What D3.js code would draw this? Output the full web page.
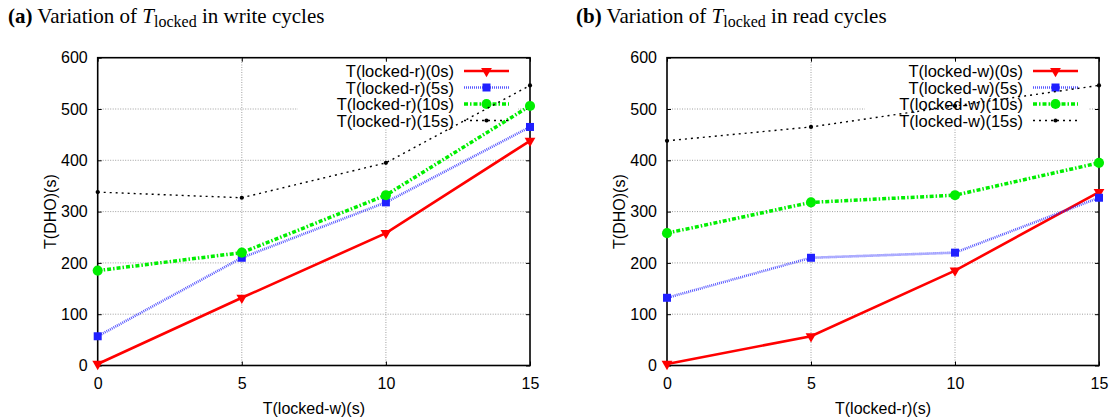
<!DOCTYPE html>
<html>
<head>
<meta charset="utf-8">
<script src="https://cdn.jsdelivr.net/npm/d3@7/dist/d3.min.js"></script>
<style>
  body { margin: 0; background: #fff; }
  svg text { font-family: "Liberation Sans", Arial, sans-serif; }
</style>
</head>
<body>
<script>
// x positions (seconds)
const xValues = [0, 5, 10, 15];
const xTicks = [0, 5, 10, 15];
const yTicks = [0, 100, 200, 300, 400, 500, 600];

// (a) write cycles: x = T(locked-w), series = T(locked-r)
const leftNames = ["T(locked-r)(0s)", "T(locked-r)(5s)", "T(locked-r)(10s)", "T(locked-r)(15s)"];
const leftR0 = [3, 132, 258, 438];
const leftR5 = [57, 210, 318, 465];
const leftR10 = [185, 220, 332, 506];
const leftR15 = [338, 327, 395, 546];

// (b) read cycles: x = T(locked-r), series = T(locked-w)
const rightNames = ["T(locked-w)(0s)", "T(locked-w)(5s)", "T(locked-w)(10s)", "T(locked-w)(15s)"];
const rightW0 = [3, 57, 185, 338];
const rightW5 = [132, 210, 220, 327];
const rightW10 = [258, 318, 332, 395];
const rightW15 = [438, 465, 506, 546];

const styles = [
  { color: "#ff0000", width: 2.6, dash: null, marker: "triangle", size: 50, opacity: 1 },
  { color: "#2020ff", width: 2.6, dash: "1,1", marker: "square", size: 64, opacity: 0.75 },
  { color: "#00ee00", width: 3.5, dash: "4,2,1.5,2", marker: "circle", size: 80, opacity: 1 },
  { color: "#000000", width: 1.4, dash: "2,4", marker: "circle", size: 14, opacity: 1 }
];

const svg = d3.select("body").append("svg")
  .attr("width", 1111).attr("height", 420);

function drawPanel(opt) {
  const x = d3.scaleLinear().domain([0, 15]).range([opt.left, opt.right]);
  const y = d3.scaleLinear().domain([0, 600]).range([365.5, 57.7]);
  const g = svg.append("g");

  // title
  const t = g.append("text").attr("x", opt.titleX).attr("y", 23)
    .style("font-family", "'Liberation Serif', 'Times New Roman', serif")
    .style("font-size", "21px");
  t.append("tspan").style("font-weight", "bold").text(opt.label);
  t.append("tspan").text(" Variation of ");
  t.append("tspan").style("font-style", "italic").text("T");
  t.append("tspan").attr("dy", 4).style("font-size", "16px").text("locked");
  t.append("tspan").attr("dy", -4).text(" in " + opt.cycle + " cycles");

  // grid
  g.append("g").selectAll("line").data(yTicks.slice(1, -1)).join("line")
    .attr("x1", opt.left).attr("x2", opt.right)
    .attr("y1", d => y(d)).attr("y2", d => y(d))
    .attr("stroke", "#888").attr("stroke-width", 0.8).attr("stroke-dasharray", "1,1.5");
  g.append("g").selectAll("line").data(xTicks.slice(1, -1)).join("line")
    .attr("x1", d => x(d)).attr("x2", d => x(d))
    .attr("y1", y(0)).attr("y2", y(600))
    .attr("stroke", "#888").attr("stroke-width", 0.8).attr("stroke-dasharray", "1,1.5");

  // legend background (covers grid)
  g.append("rect").attr("x", opt.legendX).attr("y", 60)
    .attr("width", opt.legendW).attr("height", 68).attr("fill", "#fff");

  // axes with inward ticks + mirror
  const ax = g.append("g").attr("transform", `translate(0,${y(0)})`)
    .call(d3.axisBottom(x).tickValues(xTicks).tickSize(-4).tickPadding(12));
  const axTop = g.append("g").attr("transform", `translate(0,${y(600)})`)
    .call(d3.axisTop(x).tickValues(xTicks).tickSize(-4).tickFormat(""));
  const ay = g.append("g").attr("transform", `translate(${opt.left},0)`)
    .call(d3.axisLeft(y).tickValues(yTicks).tickSize(-4).tickPadding(10));
  const ayR = g.append("g").attr("transform", `translate(${opt.right},0)`)
    .call(d3.axisRight(y).tickValues(yTicks).tickSize(-4).tickFormat(""));
  [ax, axTop, ay, ayR].forEach(a => {
    a.select(".domain").remove();
    a.selectAll("line").attr("stroke", "#000").attr("stroke-width", 1);
    a.selectAll("text").style("font-size", "16px").attr("fill", "#000")
      .style("font-family", "'Liberation Sans', Arial, sans-serif");
  });
  g.append("rect").attr("x", opt.left).attr("y", y(600))
    .attr("width", opt.right - opt.left).attr("height", y(0) - y(600))
    .attr("fill", "none").attr("stroke", "#000").attr("stroke-width", 1.6);

  // axis labels
  g.append("text").attr("x", (opt.left + opt.right) / 2).attr("y", 414)
    .attr("text-anchor", "middle").style("font-size", "16px").text(opt.xLabel);
  g.append("text").attr("transform", `translate(${opt.left - 42},${(y(0) + y(600)) / 2}) rotate(-90)`)
    .attr("text-anchor", "middle").style("font-size", "16px").text("T(DHO)(s)");

  // legend text
  const rowY = [71, 87.5, 104, 120.5];
  opt.names.forEach((n, i) => {
    g.append("text").attr("x", opt.legendTextX).attr("y", rowY[i] + 6)
      .attr("text-anchor", "end").style("font-size", "16.5px").text(n);
  });

  const markerPath = s => {
    if (s.marker === "triangle") return d3.symbol().type(d3.symbolTriangle).size(s.size)();
    if (s.marker === "square") return d3.symbol().type(d3.symbolSquare).size(s.size)();
    return d3.symbol().type(d3.symbolCircle).size(s.size)();
  };
  const rot = s => s.marker === "triangle" ? " rotate(180)" : "";

  const line = d3.line().x((d, i) => x(xValues[i])).y(d => y(d));

  opt.series.forEach((vals, i) => {
    const s = styles[i];
    g.append("path").datum(vals).attr("d", line)
      .attr("fill", "none").attr("stroke", s.color).attr("stroke-width", s.width)
      .attr("stroke-opacity", s.opacity)
      .attr("stroke-dasharray", s.dash);
    g.append("g").selectAll("path").data(vals).join("path")
      .attr("d", markerPath(s))
      .attr("transform", (d, j) => `translate(${x(xValues[j])},${y(d)})${rot(s)}`)
      .attr("fill", s.color);

    // legend sample
    const lx = opt.legendTextX + 10;
    g.append("line").attr("x1", lx).attr("x2", lx + 45)
      .attr("y1", rowY[i]).attr("y2", rowY[i])
      .attr("stroke", s.color).attr("stroke-width", s.width)
      .attr("stroke-opacity", s.opacity).attr("stroke-dasharray", s.dash);
    g.append("path").attr("d", markerPath(s))
      .attr("transform", `translate(${lx + 22.5},${rowY[i]})${rot(s)}`)
      .attr("fill", s.color);
  });
}

drawPanel({
  left: 97.7, right: 530, titleX: 8, label: "(a)", cycle: "write",
  xLabel: "T(locked-w)(s)", names: leftNames,
  series: [leftR0, leftR5, leftR10, leftR15],
  legendX: 298, legendW: 220, legendTextX: 454
});
drawPanel({
  left: 667, right: 1099, titleX: 576, label: "(b)", cycle: "read",
  xLabel: "T(locked-r)(s)", names: rightNames,
  series: [rightW0, rightW5, rightW10, rightW15],
  legendX: 865, legendW: 224, legendTextX: 1023
});
</script>
</body>
</html>
